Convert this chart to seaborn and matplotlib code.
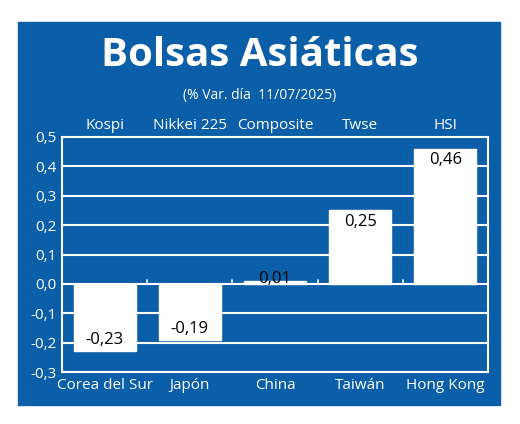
import matplotlib
matplotlib.use("Agg")
import matplotlib.pyplot as plt
import seaborn as sns
import pandas as pd
from matplotlib.patches import Rectangle

# ── Data ──
countries = ["Corea del Sur", "Japón", "China", "Taiwán", "Hong Kong"]
indices = ["Kospi", "Nikkei 225", "Composite", "Twse", "HSI"]
values = [-0.23, -0.19, 0.01, 0.25, 0.46]
yticks = [-0.3, -0.2, -0.1, 0.0, 0.1, 0.2, 0.3, 0.4, 0.5]

BLUE = "#0b5ea8"
sns.set_style("white")
plt.rcParams["font.family"] = ["Open Sans", "DejaVu Sans"]

fig = plt.figure(figsize=(5.2, 4.24), dpi=100)
fig.patch.set_facecolor("white")
bg = Rectangle((18 / 520, 1 - 405 / 424), 482 / 520, 383 / 424,
               transform=fig.transFigure, color=BLUE, zorder=-10)
fig.add_artist(bg)

ax = fig.add_axes([62 / 520, 1 - 372 / 424, 426 / 520, 235 / 424])
ax.set_zorder(1)
ax.set_facecolor(BLUE)
df = pd.DataFrame({"pais": countries, "valor": values})
sns.barplot(data=df, x="pais", y="valor", color="white", saturation=1,
            width=0.73, ax=ax, zorder=3)

ax.set_ylim(-0.3, 0.5)
ax.set_xlim(-0.5, len(countries) - 0.5)
ax.set_yticks(yticks)
ax.set_yticklabels([f"{t:.1f}".replace(".", ",") for t in yticks], color="white", fontsize=11)
for t in yticks:
    ax.axhline(t, color="white", lw=1.5, zorder=1)
ax.set_xticks(range(len(countries)))
ax.set_xticklabels(countries, color="white", fontsize=11)
ax.tick_params(axis="both", length=0, pad=4)
for s in ax.spines.values():
    s.set_color("white")
    s.set_linewidth(1.5)
ax.set_xlabel("")
ax.set_ylabel("")

# separator ticks on zero line
for b in range(1, len(countries)):
    ax.plot([b - 0.5, b - 0.5], [0, 0.012], color="white", lw=1.2, zorder=2)

for i, (v, name) in enumerate(zip(values, indices)):
    lab = f"{v:.2f}".replace(".", ",")
    if v < 0:
        ax.text(i, v + 0.01, lab, ha="center", va="bottom", fontsize=12, color="black", zorder=4)
    elif v > 0.05:
        ax.text(i, v - 0.012, lab, ha="center", va="top", fontsize=12, color="black", zorder=4)
    else:
        ax.text(i, v + 0.005, lab, ha="center", va="center", fontsize=12, color="black", zorder=4)
    ax.text(i, 0.515, name, ha="center", va="bottom", fontsize=11, color="white")

fig.text(0.5, 1 - 55 / 424, "Bolsas Asiáticas", ha="center", va="center",
         fontsize=29, fontweight="bold", color="white")
fig.text(0.5, 1 - 95 / 424, "(% Var. día  11/07/2025)", ha="center", va="center",
         fontsize=10, color="white")

fig.savefig("out.png", dpi=100)
